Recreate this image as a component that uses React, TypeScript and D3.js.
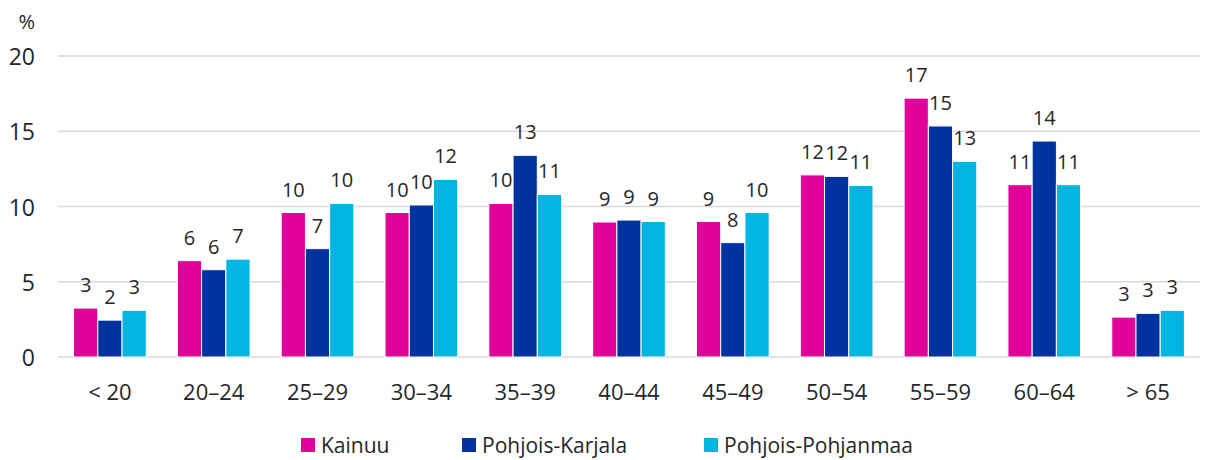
import React from 'react';
import * as d3 from 'd3';

const categories = ['< 20', '20–24', '25–29', '30–34', '35–39', '40–44', '45–49', '50–54', '55–59', '60–64', '> 65'];
const seriesNames = ['Kainuu', 'Pohjois-Karjala', 'Pohjois-Pohjanmaa'];
const kainuu = [3.25, 6.4, 9.6, 9.6, 10.2, 8.97, 9.0, 12.1, 17.2, 11.45, 2.65];
const pohjoisKarjala = [2.45, 5.8, 7.2, 10.1, 13.4, 9.1, 7.6, 12.0, 15.35, 14.35, 2.9];
const pohjoisPohjanmaa = [3.1, 6.5, 10.2, 11.8, 10.8, 9.0, 9.6, 11.4, 13.0, 11.45, 3.1];
const colors = ['#e0009a', '#0033a0', '#00b5e2'];
const yTicks = [0, 5, 10, 15, 20];

const W = 1209;
const H = 460;
const margin = { top: 56, right: 9, bottom: 103, left: 58 };
const FONT = '"Open Sans", "Noto Sans", sans-serif';

export default function App() {
  const series = [kainuu, pohjoisKarjala, pohjoisPohjanmaa];

  const x = d3.scaleBand()
    .domain(categories)
    .range([margin.left, W - margin.right])
    .paddingInner(0.3)
    .paddingOuter(0.15);
  const inner = d3.scaleBand()
    .domain(seriesNames)
    .range([0, x.bandwidth()]);
  const y = d3.scaleLinear()
    .domain([0, 20])
    .range([H - margin.bottom, margin.top]);

  // legend item positions (left edge of swatch)
  const legendX = [301, 462, 704];

  return (
    <svg width={W} height={H} style={{ position: 'absolute', left: 0, top: 0 }} fontFamily={FONT}>
      {yTicks.map(t => (
        <g key={t}>
          <line x1={margin.left} x2={W - margin.right} y1={y(t)} y2={y(t)} stroke="#d9d9d9" strokeWidth={1.5} />
          <text x={35} y={y(t)} textAnchor="end" dominantBaseline="central" fontSize={23} fill="#262626">{t}</text>
        </g>
      ))}
      <text x={35} y={21} textAnchor="end" dominantBaseline="central" fontSize={20} fill="#262626">%</text>

      {categories.map((c, i) => (
        <g key={c} transform={`translate(${x(c)},0)`}>
          {series.map((s, j) => {
            const bx = inner(seriesNames[j]);
            const v = s[i];
            return (
              <g key={j}>
                <rect x={bx} y={y(v)} width={inner.bandwidth()} height={y(0) - y(v)}
                  fill={colors[j]} stroke="#fff" strokeWidth={1} />
                <text x={bx + inner.bandwidth() / 2} y={y(v) - 16} textAnchor="middle"
                  fontSize={20} fill="#262626">{Math.round(v)}</text>
              </g>
            );
          })}
          <text x={x.bandwidth() / 2} y={391} textAnchor="middle" dominantBaseline="central"
            fontSize={22} fill="#262626">{c}</text>
        </g>
      ))}

      {seriesNames.map((n, j) => (
        <g key={n}>
          <rect x={legendX[j]} y={438} width={14} height={14} fill={colors[j]} />
          <text x={legendX[j] + 20} y={445} dominantBaseline="central" fontSize={21} fill="#262626">{n}</text>
        </g>
      ))}
    </svg>
  );
}
